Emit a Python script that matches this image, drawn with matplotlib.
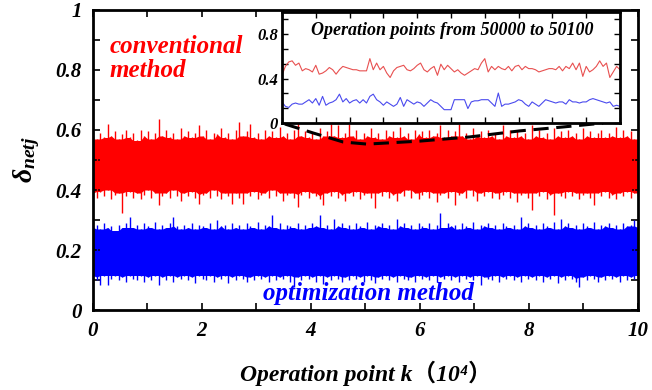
import numpy as np
import matplotlib
matplotlib.use("Agg")
import matplotlib.pyplot as plt
from matplotlib.ticker import MultipleLocator, FuncFormatter

plt.rcParams['font.family'] = ['Liberation Serif', 'Noto Sans CJK SC']
plt.rcParams['font.weight'] = 'bold'
plt.rcParams['font.style'] = 'italic'
plt.rcParams['axes.labelweight'] = 'bold'
plt.rcParams['mathtext.fontset'] = 'custom'
plt.rcParams['mathtext.it'] = 'Liberation Serif:italic:bold'
plt.rcParams['mathtext.rm'] = 'Liberation Serif:bold'

# ---- data ----
# envelope of the 100000-point traces, sampled at 150 places across k = 0..10 (x10^4)
red_top = [0.58, 0.57, 0.59, 0.575, 0.62, 0.58, 0.595, 0.57, 0.585, 0.60,
           0.575, 0.59, 0.565, 0.60, 0.58, 0.595, 0.57, 0.59, 0.637, 0.58,
           0.60, 0.575, 0.59, 0.57, 0.605, 0.58, 0.595, 0.575, 0.59, 0.617,
           0.58, 0.60, 0.57, 0.59, 0.585, 0.605, 0.575, 0.59, 0.57, 0.60,
           0.627, 0.58, 0.595, 0.62, 0.575, 0.59, 0.57, 0.60, 0.58, 0.595,
           0.575, 0.61, 0.58, 0.59, 0.57, 0.60, 0.633, 0.58, 0.595, 0.575,
           0.59, 0.57, 0.605, 0.58, 0.595, 0.62, 0.58, 0.615, 0.575, 0.59,
           0.62, 0.58, 0.60, 0.57, 0.59, 0.58, 0.605, 0.575, 0.59, 0.57,
           0.60, 0.58, 0.595, 0.575, 0.61, 0.58, 0.59, 0.57, 0.60, 0.585,
           0.595, 0.575, 0.60, 0.58, 0.59, 0.617, 0.575, 0.60, 0.58, 0.595,
           0.62, 0.58, 0.59, 0.57, 0.605, 0.58, 0.595, 0.575, 0.60, 0.58,
           0.59, 0.57, 0.617, 0.58, 0.60, 0.575, 0.595, 0.58, 0.59, 0.57,
           0.617, 0.58, 0.60, 0.575, 0.59, 0.57, 0.605, 0.58, 0.595, 0.575,
           0.60, 0.58, 0.59, 0.57, 0.605, 0.58, 0.595, 0.575, 0.59, 0.60,
           0.575, 0.59, 0.58, 0.61, 0.575, 0.60, 0.58, 0.595, 0.57, 0.59]
red_bot = [0.39, 0.375, 0.395, 0.38, 0.40, 0.37, 0.385, 0.39, 0.325, 0.38,
           0.395, 0.375, 0.39, 0.37, 0.385, 0.40, 0.375, 0.39, 0.35, 0.38,
           0.39, 0.375, 0.40, 0.38, 0.365, 0.39, 0.38, 0.395, 0.375, 0.355,
           0.385, 0.39, 0.375, 0.40, 0.38, 0.37, 0.39, 0.38, 0.355, 0.39,
           0.375, 0.355, 0.39, 0.38, 0.395, 0.37, 0.385, 0.39, 0.375, 0.40,
           0.38, 0.39, 0.365, 0.385, 0.39, 0.375, 0.343, 0.385, 0.395, 0.375,
           0.39, 0.38, 0.37, 0.35, 0.39, 0.38, 0.395, 0.375, 0.385, 0.365,
           0.39, 0.38, 0.395, 0.37, 0.385, 0.39, 0.375, 0.34, 0.39, 0.38,
           0.395, 0.375, 0.385, 0.365, 0.39, 0.38, 0.40, 0.375, 0.39, 0.37,
           0.385, 0.395, 0.375, 0.39, 0.36, 0.385, 0.39, 0.375, 0.395, 0.35,
           0.385, 0.39, 0.375, 0.40, 0.38, 0.365, 0.39, 0.38, 0.395, 0.375,
           0.39, 0.37, 0.385, 0.395, 0.375, 0.39, 0.36, 0.385, 0.39, 0.375,
           0.335, 0.39, 0.38, 0.395, 0.37, 0.385, 0.317, 0.39, 0.38, 0.375,
           0.395, 0.38, 0.39, 0.37, 0.385, 0.39, 0.375, 0.35, 0.39, 0.38,
           0.395, 0.375, 0.385, 0.37, 0.39, 0.38, 0.395, 0.375, 0.39, 0.38]
blue_top = [0.275, 0.285, 0.27, 0.29, 0.275, 0.28, 0.265, 0.285, 0.275, 0.29,
            0.31, 0.275, 0.285, 0.27, 0.29, 0.28, 0.275, 0.295, 0.27, 0.285,
            0.275, 0.29, 0.31, 0.28, 0.27, 0.285, 0.275, 0.29, 0.27, 0.285,
            0.28, 0.275, 0.29, 0.27, 0.30, 0.28, 0.285, 0.27, 0.29, 0.275,
            0.285, 0.27, 0.29, 0.28, 0.275, 0.295, 0.27, 0.285, 0.28, 0.317,
            0.275, 0.29, 0.27, 0.285, 0.28, 0.275, 0.29, 0.27, 0.285, 0.275,
            0.29, 0.28, 0.317, 0.275, 0.285, 0.27, 0.305, 0.28, 0.29, 0.275,
            0.285, 0.27, 0.29, 0.28, 0.275, 0.295, 0.27, 0.285, 0.28, 0.29,
            0.275, 0.285, 0.27, 0.305, 0.28, 0.29, 0.275, 0.285, 0.27, 0.29,
            0.28, 0.275, 0.29, 0.27, 0.285, 0.323, 0.275, 0.29, 0.28, 0.285,
            0.27, 0.29, 0.28, 0.275, 0.295, 0.27, 0.285, 0.28, 0.29, 0.275,
            0.285, 0.27, 0.29, 0.28, 0.275, 0.285, 0.27, 0.31, 0.28, 0.29,
            0.275, 0.285, 0.27, 0.29, 0.28, 0.275, 0.295, 0.27, 0.305, 0.28,
            0.29, 0.275, 0.285, 0.27, 0.29, 0.28, 0.275, 0.295, 0.27, 0.285,
            0.28, 0.29, 0.275, 0.285, 0.27, 0.29, 0.28, 0.285, 0.30, 0.28]
blue_bot = [0.11, 0.10, 0.083, 0.115, 0.083, 0.105, 0.115, 0.10, 0.11, 0.095,
            0.115, 0.105, 0.10, 0.115, 0.095, 0.11, 0.10, 0.115, 0.085, 0.11,
            0.10, 0.115, 0.095, 0.11, 0.105, 0.115, 0.10, 0.11, 0.09, 0.115,
            0.105, 0.10, 0.115, 0.095, 0.11, 0.105, 0.115, 0.09, 0.11, 0.10,
            0.115, 0.105, 0.095, 0.11, 0.10, 0.115, 0.105, 0.11, 0.095, 0.115,
            0.10, 0.11, 0.105, 0.115, 0.095, 0.077, 0.11, 0.10, 0.115, 0.105,
            0.11, 0.095, 0.115, 0.088, 0.11, 0.10, 0.115, 0.105, 0.095, 0.11,
            0.10, 0.115, 0.105, 0.11, 0.095, 0.115, 0.10, 0.09, 0.11, 0.105,
            0.115, 0.10, 0.11, 0.095, 0.115, 0.105, 0.10, 0.11, 0.095, 0.115,
            0.105, 0.11, 0.10, 0.115, 0.095, 0.11, 0.105, 0.115, 0.10, 0.11,
            0.095, 0.115, 0.105, 0.11, 0.10, 0.115, 0.085, 0.11, 0.105, 0.10,
            0.115, 0.095, 0.11, 0.105, 0.115, 0.10, 0.11, 0.095, 0.115, 0.105,
            0.11, 0.10, 0.115, 0.095, 0.11, 0.105, 0.115, 0.09, 0.11, 0.10,
            0.115, 0.105, 0.095, 0.077, 0.11, 0.10, 0.115, 0.105, 0.095, 0.11,
            0.10, 0.115, 0.105, 0.11, 0.095, 0.115, 0.10, 0.11, 0.105, 0.115]

# operation points 50000..50100 (inset)
inset_red = [0.43, 0.51, 0.55, 0.56, 0.52, 0.54, 0.47, 0.49, 0.48, 0.46,
             0.52, 0.44, 0.45, 0.47, 0.50, 0.48, 0.44, 0.48, 0.51, 0.50,
             0.49, 0.48, 0.48, 0.47, 0.47, 0.47, 0.58, 0.48, 0.54, 0.48,
             0.51, 0.45, 0.41, 0.47, 0.50, 0.51, 0.52, 0.48, 0.47, 0.49,
             0.52, 0.54, 0.48, 0.46, 0.49, 0.51, 0.43, 0.53, 0.48, 0.52,
             0.49, 0.46, 0.48, 0.45, 0.43, 0.45, 0.47, 0.49, 0.48, 0.54,
             0.58, 0.46, 0.51, 0.48, 0.51, 0.49, 0.48, 0.51, 0.47, 0.51,
             0.52, 0.48, 0.51, 0.49, 0.49, 0.48, 0.46, 0.47, 0.48, 0.49,
             0.49, 0.48, 0.51, 0.47, 0.51, 0.49, 0.54, 0.48, 0.54, 0.42,
             0.51, 0.46, 0.48, 0.51, 0.56, 0.51, 0.54, 0.41, 0.46, 0.51, 0.48]
inset_blue = [0.19, 0.15, 0.14, 0.17, 0.18, 0.17, 0.17, 0.19, 0.21, 0.18,
              0.22, 0.16, 0.24, 0.16, 0.18, 0.19, 0.21, 0.26, 0.19, 0.22,
              0.18, 0.20, 0.21, 0.18, 0.21, 0.18, 0.24, 0.26, 0.21, 0.19,
              0.16, 0.19, 0.17, 0.15, 0.17, 0.23, 0.15, 0.21, 0.19, 0.17,
              0.19, 0.18, 0.15, 0.18, 0.21, 0.19, 0.18, 0.15, 0.12, 0.12,
              0.12, 0.21, 0.21, 0.21, 0.21, 0.13, 0.19, 0.20, 0.20, 0.21,
              0.21, 0.21, 0.18, 0.15, 0.27, 0.15, 0.17, 0.17, 0.18, 0.19,
              0.21, 0.20, 0.17, 0.15, 0.19, 0.17, 0.15, 0.18, 0.21, 0.20,
              0.19, 0.18, 0.19, 0.19, 0.17, 0.21, 0.19, 0.19, 0.18, 0.19,
              0.19, 0.21, 0.22, 0.21, 0.20, 0.19, 0.18, 0.19, 0.15, 0.16, 0.15]

# dashed outline below the inset (main-axes coords)
arc_x = [3.52, 4.04, 4.59, 5.03, 6.0, 6.92, 7.83, 8.62, 9.36]
arc_y = [0.62, 0.59, 0.56, 0.553, 0.563, 0.577, 0.597, 0.61, 0.623]

k = np.linspace(0, 10, len(red_top))
inset_k = 50000 + np.arange(len(inset_red))


def draw_band(ax, top, bot, color):
    top = np.array(top)
    bot = np.array(bot)
    # solid body: the lower of neighbouring tops / higher of neighbouring bottoms
    body_top = np.minimum(top, np.minimum(np.roll(top, 1), np.roll(top, -1)))
    body_bot = np.maximum(bot, np.maximum(np.roll(bot, 1), np.roll(bot, -1)))
    ax.fill_between(k, body_bot, body_top, color=color, lw=0)
    ax.vlines(k, bot, top, color=color, lw=1.0)


# ---- figure ----
fig = plt.figure(figsize=(6.52, 3.9), dpi=100)
ax = fig.add_axes([0.1426, 0.2051, 0.8359, 0.7693])

draw_band(ax, red_top, red_bot, '#ff0000')
draw_band(ax, blue_top, blue_bot, '#0000ff')

ax.plot(arc_x, arc_y, color='black', lw=2.2, ls=(0, (5, 2.5)), zorder=4)

ax.set_xlim(0, 10)
ax.set_ylim(0, 1)
ax.xaxis.set_major_locator(MultipleLocator(2))
ax.xaxis.set_minor_locator(MultipleLocator(1))
ax.yaxis.set_major_locator(MultipleLocator(0.2))
ax.yaxis.set_minor_locator(MultipleLocator(0.1))
ax.yaxis.set_major_formatter(FuncFormatter(lambda v, p: f"{v:g}"))
ax.tick_params(which='both', direction='in', top=True, right=True,
               length=5, width=1.2, labelsize=15, pad=8)
for s in ax.spines.values():
    s.set_linewidth(2)

ax.set_xlabel('Operation point k（10⁴）', fontsize=17, fontweight='bold', labelpad=14)
ax.set_ylabel(r'$\delta_{netj}$', fontsize=20, labelpad=10)

ax.text(0.31, 0.915, 'conventional\nmethod', color='#ff0000', fontsize=18,
        va='top', ha='left', linespacing=1.05)
ax.text(3.12, 0.035, 'optimization method', color='#0000ff', fontsize=18,
        va='baseline', ha='left')

# ---- inset ----
ins = fig.add_axes([0.4325, 0.6846, 0.5184, 0.2846])
ins.set_facecolor('white')
ins.plot(inset_k, inset_red, color='#e85050', lw=0.8)
ins.plot(inset_k, inset_blue, color='#4a4aee', lw=0.8)
ins.set_xlim(50000, 50100)
ins.set_ylim(0, 1)
ins.xaxis.set_major_locator(MultipleLocator(10))
ins.yaxis.set_major_locator(MultipleLocator(0.4))
ins.yaxis.set_minor_locator(MultipleLocator(0.4 / 3))
ins.yaxis.set_major_formatter(FuncFormatter(lambda v, p: f"{v:g}" if v < 0.9 else ""))
ins.tick_params(which='both', direction='in', top=True, right=True,
                length=4, width=1, labelsize=12, pad=3)
ins.tick_params(axis='x', labelbottom=False)
for s in ins.spines.values():
    s.set_linewidth(2)
ins.text(0.503, 0.83, 'Operation points from 50000 to 50100', transform=ins.transAxes,
         ha='center', va='center', fontsize=13)

fig.savefig('out.png', dpi=100)
